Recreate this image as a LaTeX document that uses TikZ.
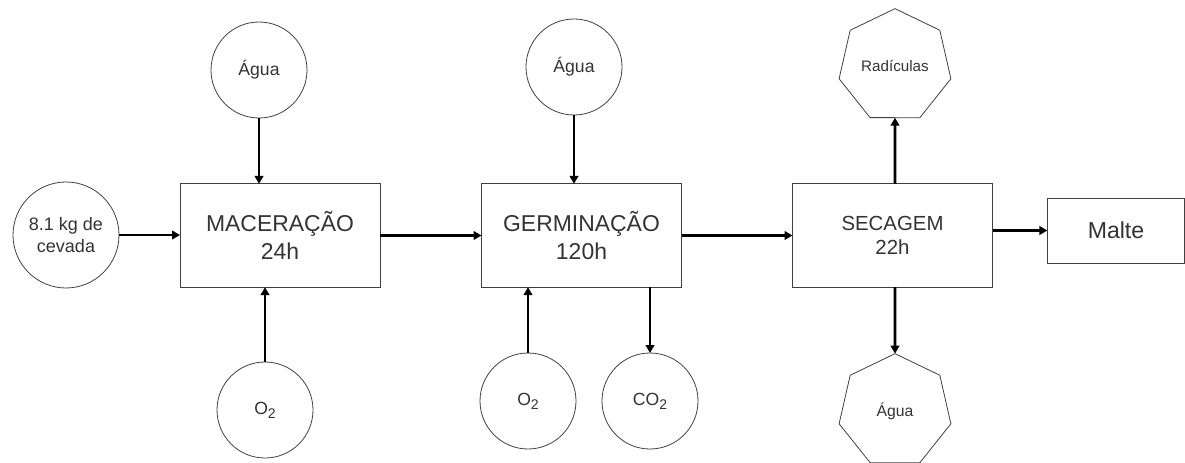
\documentclass[tikz,border=0pt]{standalone}
\usepackage{fontspec}
\setmainfont{Liberation Sans}
\usetikzlibrary{arrows.meta,shapes.geometric}

\newcommand{\subdois}{\raisebox{-0.45ex}{\fontsize{10.5}{10.5}\selectfont 2}}

\begin{document}
\begin{tikzpicture}[x=0.75pt, y=-0.75pt,
  every node/.style={inner sep=0pt, outer sep=0pt, text=black!80, draw=black!75, line width=0.6pt},
  proc/.style={rectangle, draw, minimum width=150pt, minimum height=77.5pt, align=center, font=\fontsize{17.2}{20.5}\selectfont},
  flow/.style={circle, draw, minimum size=72pt, align=center, font=\fontsize{13.2}{15.5}\selectfont},
  outp/.style={regular polygon, regular polygon sides=7, draw, minimum size=86pt, font=\fontsize{11.4}{13}\selectfont},
  seta/.style={line width=2.2pt, black, -{Triangle[length=6pt, width=6.5pt]}}]
\useasboundingbox (0,0) rectangle (1185,463);

% entradas e etapas
\node[flow, minimum size=79.5pt, font=\fontsize{13.5}{16}\selectfont] (cevada) at (66,235) {8.1 kg de\\cevada};
\node[proc] (mac) at (280,235.5) {MACERAÇÃO\\24h};
\node[flow] (agua1) at (259,70) {Água};
\node[flow] (o2a) at (265,410) {O\subdois};

\node[proc] (germ) at (581.5,235.5) {GERMINAÇÃO\\120h};
\node[flow] (agua2) at (574,67) {Água};
\node[flow] (o2b) at (528,401) {O\subdois};
\node[flow] (co2) at (650,401) {CO\subdois};

\node[proc, font=\fontsize{15.3}{18.5}\selectfont] (seca) at (892.5,235.5) {SECAGEM\\22h};
\node[outp] (radic) at (895,66) {Radículas};
\node[outp, font=\fontsize{11.8}{13}\selectfont] (agua3) at (895,411) {Água};

\node[rectangle, draw, minimum width=103pt, minimum height=48.75pt, font=\fontsize{17.3}{20}\selectfont] (malte) at (1116,230.5) {Malte};

% setas
\draw[seta] (cevada.east) -- (cevada.east -| mac.west);
\draw[seta] (agua1.south) -- (agua1.south |- mac.north);
\draw[seta] (o2a.north) -- (o2a.north |- mac.south);
\draw[seta] (mac.east) -- (germ.west);
\draw[seta] (agua2.south) -- (agua2.south |- germ.north);
\draw[seta] (o2b.north) -- (o2b.north |- germ.south);
\draw[seta] (co2.north |- germ.south) -- (co2.north);
\draw[seta] (germ.east) -- (seca.west);
\draw[seta] (seca.north -| radic) -- (radic.south);
\draw[seta] (seca.south -| agua3) -- (agua3.north);
\draw[seta] (seca.east |- malte) -- (malte.west);
\end{tikzpicture}
\end{document}
